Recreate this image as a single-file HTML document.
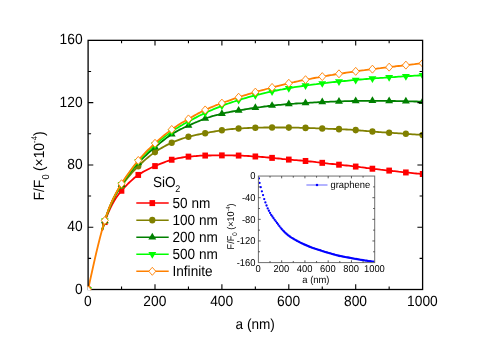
<!DOCTYPE html>
<html><head><meta charset="utf-8"><title>plot</title>
<style>html,body{margin:0;padding:0;background:#fff;overflow:hidden}svg{display:block;will-change:transform}text{font-family:"Liberation Sans",sans-serif;fill:#000;text-rendering:geometricPrecision}</style></head><body>
<svg width="491" height="347" viewBox="0 0 491 347">
<rect width="491" height="347" fill="#fff"/>
<defs><clipPath id="cp"><rect x="88.1" y="40.35" width="334.5" height="249.15"/></clipPath></defs>
<g clip-path="url(#cp)">
<polyline points="102.1,230.8 104.1,224.2 106.1,218.3 108.1,213.1 110.1,208.6 112.1,204.5 114.1,201.0 116.1,197.8 118.1,195.0 120.1,192.4 122.2,190.0 124.2,187.7 126.2,185.6 128.2,183.5 130.2,181.6 132.2,179.8 134.2,178.0 136.2,176.5 138.2,175.0 140.2,173.7 142.2,172.4 144.2,171.3 146.2,170.2 148.2,169.2 150.2,168.2 152.2,167.3 154.2,166.4 156.2,165.6 158.2,164.7 160.2,163.9 162.2,163.1 164.2,162.3 166.2,161.5 168.2,160.8 170.2,160.2 172.2,159.6 174.2,159.1 176.2,158.6 178.2,158.2 180.2,157.8 182.2,157.5 184.2,157.2 186.2,156.9 188.2,156.7 190.3,156.5 192.3,156.3 194.3,156.1 196.3,156.0 198.3,155.8 200.3,155.7 202.3,155.7 204.3,155.6 206.3,155.5 208.3,155.5 210.3,155.5 212.3,155.4 214.3,155.4 216.3,155.4 218.3,155.4 220.3,155.4 222.3,155.4 224.3,155.4 226.3,155.4 228.3,155.4 230.3,155.4 232.3,155.4 234.3,155.5 236.3,155.5 238.3,155.5 240.3,155.6 242.3,155.7 244.3,155.8 246.3,155.9 248.3,156.0 250.3,156.1 252.3,156.3 254.3,156.4 256.4,156.6 258.4,156.7 260.4,156.9 262.4,157.0 264.4,157.2 266.4,157.4 268.4,157.5 270.4,157.7 272.4,157.9 274.4,158.1 276.4,158.3 278.4,158.5 280.4,158.7 282.4,159.0 284.4,159.2 286.4,159.4 288.4,159.5 290.4,159.7 292.4,159.9 294.4,160.1 296.4,160.2 298.4,160.4 300.4,160.5 302.4,160.7 304.4,160.9 306.4,161.1 308.4,161.3 310.4,161.5 312.4,161.7 314.4,161.9 316.4,162.2 318.4,162.4 320.4,162.6 322.5,162.9 324.5,163.1 326.5,163.3 328.5,163.6 330.5,163.8 332.5,164.0 334.5,164.2 336.5,164.4 338.5,164.6 340.5,164.9 342.5,165.1 344.5,165.3 346.5,165.5 348.5,165.7 350.5,165.9 352.5,166.2 354.5,166.4 356.5,166.7 358.5,166.9 360.5,167.2 362.5,167.4 364.5,167.7 366.5,168.0 368.5,168.2 370.5,168.5 372.5,168.7 374.5,169.0 376.5,169.2 378.5,169.4 380.5,169.7 382.5,169.9 384.5,170.1 386.5,170.3 388.5,170.5 390.6,170.7 392.6,171.0 394.6,171.2 396.6,171.4 398.6,171.7 400.6,171.9 402.6,172.1 404.6,172.3 406.6,172.5 408.6,172.7 410.6,172.9 412.6,173.1 414.6,173.3 416.6,173.5 418.6,173.6 420.6,173.8 422.6,174.0" fill="none" stroke="#ff0000" stroke-width="1.8" stroke-linejoin="round"/>
<rect x="85.30" y="286.50" width="5.6" height="6.0" fill="#ff0000"/>
<rect x="102.02" y="219.05" width="5.6" height="6.0" fill="#ff0000"/>
<rect x="118.75" y="187.74" width="5.6" height="6.0" fill="#ff0000"/>
<rect x="135.47" y="171.93" width="5.6" height="6.0" fill="#ff0000"/>
<rect x="152.20" y="163.09" width="5.6" height="6.0" fill="#ff0000"/>
<rect x="168.92" y="156.74" width="5.6" height="6.0" fill="#ff0000"/>
<rect x="185.65" y="153.64" width="5.6" height="6.0" fill="#ff0000"/>
<rect x="202.38" y="152.55" width="5.6" height="6.0" fill="#ff0000"/>
<rect x="219.10" y="152.40" width="5.6" height="6.0" fill="#ff0000"/>
<rect x="235.82" y="152.55" width="5.6" height="6.0" fill="#ff0000"/>
<rect x="252.55" y="153.48" width="5.6" height="6.0" fill="#ff0000"/>
<rect x="269.27" y="154.88" width="5.6" height="6.0" fill="#ff0000"/>
<rect x="286.00" y="156.58" width="5.6" height="6.0" fill="#ff0000"/>
<rect x="302.72" y="157.98" width="5.6" height="6.0" fill="#ff0000"/>
<rect x="319.45" y="159.84" width="5.6" height="6.0" fill="#ff0000"/>
<rect x="336.18" y="161.70" width="5.6" height="6.0" fill="#ff0000"/>
<rect x="352.90" y="163.56" width="5.6" height="6.0" fill="#ff0000"/>
<rect x="369.62" y="165.73" width="5.6" height="6.0" fill="#ff0000"/>
<rect x="386.35" y="167.59" width="5.6" height="6.0" fill="#ff0000"/>
<rect x="403.07" y="169.45" width="5.6" height="6.0" fill="#ff0000"/>
<rect x="419.80" y="171.00" width="5.6" height="6.0" fill="#ff0000"/>
<polyline points="102.1,230.0 104.1,223.2 106.1,216.9 108.1,211.4 110.1,206.4 112.1,201.9 114.1,197.8 116.1,194.2 118.1,190.8 120.1,187.8 122.2,184.9 124.2,182.2 126.2,179.6 128.2,177.1 130.2,174.8 132.2,172.5 134.2,170.4 136.2,168.3 138.2,166.3 140.2,164.4 142.2,162.5 144.2,160.7 146.2,158.9 148.2,157.2 150.2,155.6 152.2,154.1 154.2,152.7 156.2,151.3 158.2,150.0 160.2,148.7 162.2,147.6 164.2,146.5 166.2,145.4 168.2,144.4 170.2,143.5 172.2,142.6 174.2,141.7 176.2,140.9 178.2,140.1 180.2,139.3 182.2,138.6 184.2,138.0 186.2,137.4 188.2,136.8 190.3,136.3 192.3,135.8 194.3,135.3 196.3,134.9 198.3,134.5 200.3,134.1 202.3,133.7 204.3,133.3 206.3,133.0 208.3,132.6 210.3,132.2 212.3,131.8 214.3,131.5 216.3,131.1 218.3,130.8 220.3,130.5 222.3,130.2 224.3,129.9 226.3,129.7 228.3,129.4 230.3,129.2 232.3,129.0 234.3,128.9 236.3,128.7 238.3,128.6 240.3,128.4 242.3,128.3 244.3,128.2 246.3,128.1 248.3,128.0 250.3,127.9 252.3,127.9 254.3,127.8 256.4,127.7 258.4,127.7 260.4,127.6 262.4,127.6 264.4,127.5 266.4,127.5 268.4,127.5 270.4,127.5 272.4,127.4 274.4,127.4 276.4,127.5 278.4,127.5 280.4,127.5 282.4,127.5 284.4,127.5 286.4,127.6 288.4,127.6 290.4,127.6 292.4,127.7 294.4,127.7 296.4,127.7 298.4,127.7 300.4,127.8 302.4,127.8 304.4,127.9 306.4,127.9 308.4,128.0 310.4,128.1 312.4,128.1 314.4,128.2 316.4,128.3 318.4,128.4 320.4,128.5 322.5,128.5 324.5,128.6 326.5,128.7 328.5,128.8 330.5,128.8 332.5,128.9 334.5,129.0 336.5,129.0 338.5,129.1 340.5,129.2 342.5,129.3 344.5,129.4 346.5,129.5 348.5,129.6 350.5,129.7 352.5,129.9 354.5,130.0 356.5,130.1 358.5,130.3 360.5,130.5 362.5,130.6 364.5,130.8 366.5,131.0 368.5,131.1 370.5,131.3 372.5,131.5 374.5,131.6 376.5,131.8 378.5,132.0 380.5,132.1 382.5,132.3 384.5,132.4 386.5,132.5 388.5,132.7 390.6,132.8 392.6,132.9 394.6,133.1 396.6,133.2 398.6,133.3 400.6,133.4 402.6,133.6 404.6,133.7 406.6,133.8 408.6,134.0 410.6,134.1 412.6,134.3 414.6,134.4 416.6,134.6 418.6,134.7 420.6,134.9 422.6,135.0" fill="none" stroke="#808000" stroke-width="1.8" stroke-linejoin="round"/>
<ellipse cx="88.10" cy="289.50" rx="3.1" ry="3.3" fill="#808000"/>
<ellipse cx="104.82" cy="220.91" rx="3.1" ry="3.3" fill="#808000"/>
<ellipse cx="121.55" cy="185.73" rx="3.1" ry="3.3" fill="#808000"/>
<ellipse cx="138.27" cy="166.20" rx="3.1" ry="3.3" fill="#808000"/>
<ellipse cx="155.00" cy="152.09" rx="3.1" ry="3.3" fill="#808000"/>
<ellipse cx="171.72" cy="142.79" rx="3.1" ry="3.3" fill="#808000"/>
<ellipse cx="188.45" cy="136.75" rx="3.1" ry="3.3" fill="#808000"/>
<ellipse cx="205.18" cy="133.18" rx="3.1" ry="3.3" fill="#808000"/>
<ellipse cx="221.90" cy="130.24" rx="3.1" ry="3.3" fill="#808000"/>
<ellipse cx="238.62" cy="128.53" rx="3.1" ry="3.3" fill="#808000"/>
<ellipse cx="255.35" cy="127.75" rx="3.1" ry="3.3" fill="#808000"/>
<ellipse cx="272.07" cy="127.45" rx="3.1" ry="3.3" fill="#808000"/>
<ellipse cx="288.80" cy="127.60" rx="3.1" ry="3.3" fill="#808000"/>
<ellipse cx="305.52" cy="127.91" rx="3.1" ry="3.3" fill="#808000"/>
<ellipse cx="322.25" cy="128.53" rx="3.1" ry="3.3" fill="#808000"/>
<ellipse cx="338.98" cy="129.15" rx="3.1" ry="3.3" fill="#808000"/>
<ellipse cx="355.70" cy="130.08" rx="3.1" ry="3.3" fill="#808000"/>
<ellipse cx="372.42" cy="131.47" rx="3.1" ry="3.3" fill="#808000"/>
<ellipse cx="389.15" cy="132.72" rx="3.1" ry="3.3" fill="#808000"/>
<ellipse cx="405.88" cy="133.80" rx="3.1" ry="3.3" fill="#808000"/>
<ellipse cx="422.60" cy="135.04" rx="3.1" ry="3.3" fill="#808000"/>
<polyline points="102.1,230.1 104.1,223.2 106.1,216.9 108.1,211.3 110.1,206.2 112.1,201.7 114.1,197.5 116.1,193.7 118.1,190.3 120.1,187.0 122.2,183.9 124.2,180.9 126.2,178.0 128.2,175.3 130.2,172.6 132.2,170.1 134.2,167.6 136.2,165.3 138.2,163.1 140.2,160.9 142.2,158.9 144.2,156.9 146.2,155.1 148.2,153.2 150.2,151.4 152.2,149.7 154.2,148.0 156.2,146.3 158.2,144.6 160.2,142.9 162.2,141.3 164.2,139.7 166.2,138.1 168.2,136.7 170.2,135.3 172.2,134.0 174.2,132.7 176.2,131.6 178.2,130.5 180.2,129.4 182.2,128.5 184.2,127.5 186.2,126.6 188.2,125.7 190.3,124.8 192.3,123.9 194.3,123.0 196.3,122.2 198.3,121.3 200.3,120.5 202.3,119.7 204.3,119.0 206.3,118.2 208.3,117.5 210.3,116.9 212.3,116.2 214.3,115.7 216.3,115.1 218.3,114.6 220.3,114.0 222.3,113.6 224.3,113.1 226.3,112.7 228.3,112.3 230.3,111.9 232.3,111.5 234.3,111.1 236.3,110.8 238.3,110.5 240.3,110.1 242.3,109.8 244.3,109.5 246.3,109.1 248.3,108.8 250.3,108.5 252.3,108.2 254.3,107.9 256.4,107.6 258.4,107.3 260.4,107.1 262.4,106.8 264.4,106.5 266.4,106.3 268.4,106.0 270.4,105.8 272.4,105.6 274.4,105.3 276.4,105.1 278.4,104.9 280.4,104.8 282.4,104.6 284.4,104.4 286.4,104.2 288.4,104.1 290.4,103.9 292.4,103.8 294.4,103.7 296.4,103.5 298.4,103.4 300.4,103.3 302.4,103.2 304.4,103.0 306.4,102.9 308.4,102.8 310.4,102.7 312.4,102.6 314.4,102.4 316.4,102.3 318.4,102.2 320.4,102.1 322.5,102.0 324.5,101.9 326.5,101.9 328.5,101.8 330.5,101.7 332.5,101.6 334.5,101.6 336.5,101.5 338.5,101.4 340.5,101.4 342.5,101.3 344.5,101.2 346.5,101.2 348.5,101.1 350.5,101.1 352.5,101.0 354.5,101.0 356.5,100.9 358.5,100.9 360.5,100.9 362.5,100.8 364.5,100.8 366.5,100.8 368.5,100.8 370.5,100.8 372.5,100.8 374.5,100.8 376.5,100.8 378.5,100.8 380.5,100.8 382.5,100.9 384.5,100.9 386.5,100.9 388.5,100.9 390.6,101.0 392.6,101.0 394.6,101.0 396.6,101.1 398.6,101.1 400.6,101.1 402.6,101.2 404.6,101.2 406.6,101.3 408.6,101.3 410.6,101.4 412.6,101.4 414.6,101.5 416.6,101.5 418.6,101.6 420.6,101.7 422.6,101.7" fill="none" stroke="#008000" stroke-width="1.8" stroke-linejoin="round"/>
<path d="M84.15 291.73L92.05 291.73L88.10 285.03Z" fill="#008000"/>
<path d="M100.87 223.15L108.77 223.15L104.82 216.45Z" fill="#008000"/>
<path d="M117.60 187.04L125.50 187.04L121.55 180.34Z" fill="#008000"/>
<path d="M134.32 165.18L142.22 165.18L138.27 158.48Z" fill="#008000"/>
<path d="M151.05 149.53L158.95 149.53L155.00 142.83Z" fill="#008000"/>
<path d="M167.78 136.51L175.67 136.51L171.72 129.81Z" fill="#008000"/>
<path d="M184.50 127.83L192.40 127.83L188.45 121.13Z" fill="#008000"/>
<path d="M201.23 120.85L209.12 120.85L205.18 114.15Z" fill="#008000"/>
<path d="M217.95 115.89L225.85 115.89L221.90 109.19Z" fill="#008000"/>
<path d="M234.68 112.64L242.57 112.64L238.62 105.94Z" fill="#008000"/>
<path d="M251.40 110.00L259.30 110.00L255.35 103.30Z" fill="#008000"/>
<path d="M268.12 107.83L276.02 107.83L272.07 101.13Z" fill="#008000"/>
<path d="M284.85 106.28L292.75 106.28L288.80 99.58Z" fill="#008000"/>
<path d="M301.57 105.20L309.47 105.20L305.52 98.50Z" fill="#008000"/>
<path d="M318.30 104.27L326.20 104.27L322.25 97.57Z" fill="#008000"/>
<path d="M335.03 103.65L342.93 103.65L338.98 96.95Z" fill="#008000"/>
<path d="M351.75 103.18L359.65 103.18L355.70 96.48Z" fill="#008000"/>
<path d="M368.47 103.03L376.37 103.03L372.42 96.33Z" fill="#008000"/>
<path d="M385.20 103.18L393.10 103.18L389.15 96.48Z" fill="#008000"/>
<path d="M401.93 103.49L409.82 103.49L405.88 96.79Z" fill="#008000"/>
<path d="M418.65 103.96L426.55 103.96L422.60 97.26Z" fill="#008000"/>
<polyline points="102.1,229.9 104.1,223.0 106.1,216.7 108.1,211.1 110.1,206.0 112.1,201.4 114.1,197.2 116.1,193.4 118.1,189.8 120.1,186.5 122.2,183.3 124.2,180.2 126.2,177.3 128.2,174.4 130.2,171.6 132.2,168.9 134.2,166.3 136.2,163.8 138.2,161.5 140.2,159.2 142.2,157.0 144.2,154.9 146.2,152.9 148.2,150.9 150.2,149.1 152.2,147.2 154.2,145.5 156.2,143.7 158.2,142.0 160.2,140.3 162.2,138.7 164.2,137.1 166.2,135.6 168.2,134.1 170.2,132.6 172.2,131.2 174.2,129.9 176.2,128.6 178.2,127.4 180.2,126.1 182.2,125.0 184.2,123.8 186.2,122.7 188.2,121.6 190.3,120.5 192.3,119.5 194.3,118.4 196.3,117.4 198.3,116.3 200.3,115.3 202.3,114.4 204.3,113.4 206.3,112.5 208.3,111.5 210.3,110.6 212.3,109.8 214.3,108.9 216.3,108.1 218.3,107.3 220.3,106.5 222.3,105.7 224.3,104.9 226.3,104.2 228.3,103.5 230.3,102.8 232.3,102.1 234.3,101.5 236.3,100.8 238.3,100.2 240.3,99.6 242.3,99.0 244.3,98.4 246.3,97.8 248.3,97.2 250.3,96.6 252.3,96.1 254.3,95.6 256.4,95.0 258.4,94.5 260.4,94.1 262.4,93.6 264.4,93.1 266.4,92.7 268.4,92.2 270.4,91.8 272.4,91.4 274.4,90.9 276.4,90.5 278.4,90.1 280.4,89.7 282.4,89.4 284.4,89.0 286.4,88.6 288.4,88.2 290.4,87.9 292.4,87.6 294.4,87.2 296.4,86.9 298.4,86.6 300.4,86.3 302.4,86.0 304.4,85.7 306.4,85.4 308.4,85.1 310.4,84.9 312.4,84.6 314.4,84.3 316.4,84.1 318.4,83.8 320.4,83.6 322.5,83.3 324.5,83.1 326.5,82.9 328.5,82.6 330.5,82.4 332.5,82.2 334.5,82.0 336.5,81.8 338.5,81.6 340.5,81.4 342.5,81.2 344.5,81.0 346.5,80.8 348.5,80.6 350.5,80.4 352.5,80.2 354.5,80.1 356.5,79.9 358.5,79.7 360.5,79.5 362.5,79.4 364.5,79.2 366.5,79.0 368.5,78.9 370.5,78.7 372.5,78.6 374.5,78.4 376.5,78.2 378.5,78.1 380.5,77.9 382.5,77.8 384.5,77.7 386.5,77.5 388.5,77.4 390.6,77.2 392.6,77.1 394.6,77.0 396.6,76.8 398.6,76.7 400.6,76.6 402.6,76.4 404.6,76.3 406.6,76.2 408.6,76.1 410.6,76.0 412.6,75.9 414.6,75.7 416.6,75.6 418.6,75.5 420.6,75.4 422.6,75.3" fill="none" stroke="#00ff00" stroke-width="1.8" stroke-linejoin="round"/>
<path d="M84.15 287.27L92.05 287.27L88.10 293.97Z" fill="#00ff00"/>
<path d="M100.87 218.47L108.77 218.47L104.82 225.17Z" fill="#00ff00"/>
<path d="M117.60 182.04L125.50 182.04L121.55 188.74Z" fill="#00ff00"/>
<path d="M134.32 159.10L142.22 159.10L138.27 165.80Z" fill="#00ff00"/>
<path d="M151.05 142.52L158.95 142.52L155.00 149.22Z" fill="#00ff00"/>
<path d="M167.78 129.34L175.67 129.34L171.72 136.04Z" fill="#00ff00"/>
<path d="M184.50 119.27L192.40 119.27L188.45 125.97Z" fill="#00ff00"/>
<path d="M201.23 110.74L209.12 110.74L205.18 117.44Z" fill="#00ff00"/>
<path d="M217.95 103.61L225.85 103.61L221.90 110.31Z" fill="#00ff00"/>
<path d="M234.68 97.88L242.57 97.88L238.62 104.58Z" fill="#00ff00"/>
<path d="M251.40 93.07L259.30 93.07L255.35 99.77Z" fill="#00ff00"/>
<path d="M268.12 89.20L276.02 89.20L272.07 95.90Z" fill="#00ff00"/>
<path d="M284.85 85.94L292.75 85.94L288.80 92.64Z" fill="#00ff00"/>
<path d="M301.57 83.31L309.47 83.31L305.52 90.01Z" fill="#00ff00"/>
<path d="M318.30 81.14L326.20 81.14L322.25 87.84Z" fill="#00ff00"/>
<path d="M335.03 79.28L342.93 79.28L338.98 85.98Z" fill="#00ff00"/>
<path d="M351.75 77.73L359.65 77.73L355.70 84.43Z" fill="#00ff00"/>
<path d="M368.47 76.33L376.37 76.33L372.42 83.03Z" fill="#00ff00"/>
<path d="M385.20 75.09L393.10 75.09L389.15 81.79Z" fill="#00ff00"/>
<path d="M401.93 74.01L409.82 74.01L405.88 80.71Z" fill="#00ff00"/>
<path d="M418.65 73.08L426.55 73.08L422.60 79.78Z" fill="#00ff00"/>
<polyline points="88.1,289.5 90.1,280.3 92.1,271.2 94.1,262.3 96.1,253.5 98.1,245.2 100.1,237.2 102.1,229.7 104.1,222.7 106.1,216.4 108.1,210.7 110.1,205.6 112.1,201.0 114.1,196.8 116.1,192.9 118.1,189.3 120.1,186.0 122.2,182.8 124.2,179.6 126.2,176.6 128.2,173.7 130.2,170.9 132.2,168.2 134.2,165.5 136.2,163.0 138.2,160.6 140.2,158.2 142.2,156.0 144.2,153.8 146.2,151.7 148.2,149.7 150.2,147.8 152.2,145.9 154.2,144.0 156.2,142.2 158.2,140.4 160.2,138.6 162.2,136.9 164.2,135.2 166.2,133.6 168.2,132.1 170.2,130.6 172.2,129.1 174.2,127.7 176.2,126.4 178.2,125.1 180.2,123.8 182.2,122.6 184.2,121.4 186.2,120.2 188.2,119.0 190.3,117.9 192.3,116.7 194.3,115.6 196.3,114.5 198.3,113.4 200.3,112.4 202.3,111.3 204.3,110.4 206.3,109.4 208.3,108.5 210.3,107.6 212.3,106.8 214.3,106.0 216.3,105.2 218.3,104.5 220.3,103.7 222.3,103.0 224.3,102.2 226.3,101.5 228.3,100.8 230.3,100.1 232.3,99.4 234.3,98.7 236.3,98.0 238.3,97.3 240.3,96.7 242.3,96.0 244.3,95.4 246.3,94.8 248.3,94.2 250.3,93.6 252.3,93.0 254.3,92.4 256.4,91.8 258.4,91.2 260.4,90.7 262.4,90.1 264.4,89.6 266.4,89.0 268.4,88.5 270.4,87.9 272.4,87.4 274.4,86.8 276.4,86.3 278.4,85.8 280.4,85.3 282.4,84.8 284.4,84.3 286.4,83.8 288.4,83.4 290.4,82.9 292.4,82.5 294.4,82.0 296.4,81.6 298.4,81.2 300.4,80.7 302.4,80.3 304.4,79.9 306.4,79.5 308.4,79.1 310.4,78.8 312.4,78.4 314.4,78.0 316.4,77.6 318.4,77.3 320.4,76.9 322.5,76.6 324.5,76.2 326.5,75.9 328.5,75.5 330.5,75.2 332.5,74.9 334.5,74.5 336.5,74.2 338.5,73.9 340.5,73.6 342.5,73.3 344.5,73.0 346.5,72.7 348.5,72.4 350.5,72.1 352.5,71.8 354.5,71.5 356.5,71.2 358.5,71.0 360.5,70.7 362.5,70.4 364.5,70.2 366.5,69.9 368.5,69.6 370.5,69.4 372.5,69.2 374.5,68.9 376.5,68.7 378.5,68.4 380.5,68.2 382.5,67.9 384.5,67.7 386.5,67.5 388.5,67.2 390.6,67.0 392.6,66.7 394.6,66.5 396.6,66.2 398.6,66.0 400.6,65.8 402.6,65.5 404.6,65.3 406.6,65.1 408.6,64.8 410.6,64.6 412.6,64.4 414.6,64.2 416.6,63.9 418.6,63.7 420.6,63.5 422.6,63.3" fill="none" stroke="#ff8000" stroke-width="1.8" stroke-linejoin="round"/>
<path d="M84.60 289.50L88.10 285.50L91.60 289.50L88.10 293.50Z" fill="#fff" stroke="#ff8000" stroke-width="0.9"/>
<path d="M101.32 220.44L104.82 216.44L108.32 220.44L104.82 224.44Z" fill="#fff" stroke="#ff8000" stroke-width="0.9"/>
<path d="M118.05 183.71L121.55 179.71L125.05 183.71L121.55 187.71Z" fill="#fff" stroke="#ff8000" stroke-width="0.9"/>
<path d="M134.77 160.46L138.27 156.46L141.77 160.46L138.27 164.46Z" fill="#fff" stroke="#ff8000" stroke-width="0.9"/>
<path d="M151.50 143.25L155.00 139.25L158.50 143.25L155.00 147.25Z" fill="#fff" stroke="#ff8000" stroke-width="0.9"/>
<path d="M168.22 129.46L171.72 125.46L175.22 129.46L171.72 133.46Z" fill="#fff" stroke="#ff8000" stroke-width="0.9"/>
<path d="M184.95 118.92L188.45 114.92L191.95 118.92L188.45 122.92Z" fill="#fff" stroke="#ff8000" stroke-width="0.9"/>
<path d="M201.68 109.93L205.18 105.93L208.68 109.93L205.18 113.93Z" fill="#fff" stroke="#ff8000" stroke-width="0.9"/>
<path d="M218.40 103.11L221.90 99.11L225.40 103.11L221.90 107.11Z" fill="#fff" stroke="#ff8000" stroke-width="0.9"/>
<path d="M235.12 97.22L238.62 93.22L242.12 97.22L238.62 101.22Z" fill="#fff" stroke="#ff8000" stroke-width="0.9"/>
<path d="M251.85 92.10L255.35 88.10L258.85 92.10L255.35 96.10Z" fill="#fff" stroke="#ff8000" stroke-width="0.9"/>
<path d="M268.57 87.45L272.07 83.45L275.57 87.45L272.07 91.45Z" fill="#fff" stroke="#ff8000" stroke-width="0.9"/>
<path d="M285.30 83.27L288.80 79.27L292.30 83.27L288.80 87.27Z" fill="#fff" stroke="#ff8000" stroke-width="0.9"/>
<path d="M302.02 79.70L305.52 75.70L309.02 79.70L305.52 83.70Z" fill="#fff" stroke="#ff8000" stroke-width="0.9"/>
<path d="M318.75 76.60L322.25 72.60L325.75 76.60L322.25 80.60Z" fill="#fff" stroke="#ff8000" stroke-width="0.9"/>
<path d="M335.48 73.82L338.98 69.82L342.48 73.82L338.98 77.82Z" fill="#fff" stroke="#ff8000" stroke-width="0.9"/>
<path d="M352.20 71.33L355.70 67.33L359.20 71.33L355.70 75.33Z" fill="#fff" stroke="#ff8000" stroke-width="0.9"/>
<path d="M368.92 69.17L372.42 65.17L375.92 69.17L372.42 73.17Z" fill="#fff" stroke="#ff8000" stroke-width="0.9"/>
<path d="M385.65 67.15L389.15 63.15L392.65 67.15L389.15 71.15Z" fill="#fff" stroke="#ff8000" stroke-width="0.9"/>
<path d="M402.38 65.13L405.88 61.13L409.38 65.13L405.88 69.13Z" fill="#fff" stroke="#ff8000" stroke-width="0.9"/>
<path d="M419.10 63.27L422.60 59.27L426.10 63.27L422.60 67.27Z" fill="#fff" stroke="#ff8000" stroke-width="0.9"/>
</g>
<g stroke="#000" stroke-width="1.3" fill="none" stroke-linecap="butt">
<rect x="88.1" y="40.35" width="334.50" height="249.15"/>
</g>
<g stroke="#000" stroke-width="1.1" fill="none" stroke-linecap="butt">
<path d="M121.55 289.5v-3.0M121.55 40.35v3.0"/>
<path d="M155.00 289.5v-5.2M155.00 40.35v5.2"/>
<path d="M188.45 289.5v-3.0M188.45 40.35v3.0"/>
<path d="M221.90 289.5v-5.2M221.90 40.35v5.2"/>
<path d="M255.35 289.5v-3.0M255.35 40.35v3.0"/>
<path d="M288.80 289.5v-5.2M288.80 40.35v5.2"/>
<path d="M322.25 289.5v-3.0M322.25 40.35v3.0"/>
<path d="M355.70 289.5v-5.2M355.70 40.35v5.2"/>
<path d="M389.15 289.5v-3.0M389.15 40.35v3.0"/>
<path d="M88.1 258.36h3.0M422.6 258.36h-3.0"/>
<path d="M88.1 227.21h5.2M422.6 227.21h-5.2"/>
<path d="M88.1 196.07h3.0M422.6 196.07h-3.0"/>
<path d="M88.1 164.93h5.2M422.6 164.93h-5.2"/>
<path d="M88.1 133.78h3.0M422.6 133.78h-3.0"/>
<path d="M88.1 102.64h5.2M422.6 102.64h-5.2"/>
<path d="M88.1 71.49h3.0M422.6 71.49h-3.0"/>
</g>
<defs><clipPath id="cp0"><rect x="87.44999999999999" y="281.5" width="8" height="8.65"/></clipPath></defs>
<g clip-path="url(#cp0)"><path d="M84.30 289.80L87.80 285.80L91.30 289.80L87.80 293.80Z" fill="#fff" stroke="#ff8000" stroke-width="0.9"/></g>
<text transform="translate(87.90 306.00) scale(1 1.07)" font-size="13.8" text-anchor="middle">0</text>
<text transform="translate(154.80 306.00) scale(1 1.07)" font-size="13.8" text-anchor="middle">200</text>
<text transform="translate(221.70 306.00) scale(1 1.07)" font-size="13.8" text-anchor="middle">400</text>
<text transform="translate(288.60 306.00) scale(1 1.07)" font-size="13.8" text-anchor="middle">600</text>
<text transform="translate(355.50 306.00) scale(1 1.07)" font-size="13.8" text-anchor="middle">800</text>
<text transform="translate(422.40 306.00) scale(1 1.07)" font-size="13.8" text-anchor="middle">1000</text>
<text transform="translate(82.60 293.50) scale(1 1.07)" font-size="13.8" text-anchor="end">0</text>
<text transform="translate(82.60 231.21) scale(1 1.07)" font-size="13.8" text-anchor="end">40</text>
<text transform="translate(82.60 168.93) scale(1 1.07)" font-size="13.8" text-anchor="end">80</text>
<text transform="translate(82.60 106.64) scale(1 1.07)" font-size="13.8" text-anchor="end">120</text>
<text transform="translate(82.60 44.35) scale(1 1.07)" font-size="13.8" text-anchor="end">160</text>
<text transform="translate(255.20 328.50) scale(1 1.075)" font-size="13.6" text-anchor="middle">a (nm)</text>
<text transform="translate(43.90 200.50) rotate(-90) scale(1 1.07)" font-size="13.85" text-anchor="start">F/F<tspan dx="0.3" dy="4.8" font-size="9.3">0</tspan><tspan dx="-0.6" dy="-4.8"> (×10</tspan><tspan dy="-6.4" font-size="7.8">-4</tspan><tspan dy="6.4">)</tspan></text>
<text transform="translate(153.00 186.60) scale(1 1.075)" font-size="13.6" text-anchor="start">SiO<tspan dx="-0.3" dy="5.2" font-size="9">2</tspan></text>
<path d="M136.3 203.10H168.7" stroke="#ff0000" stroke-width="1.5"/>
<rect x="149.50" y="200.10" width="5.6" height="6.0" fill="#ff0000"/>
<text transform="translate(172.50 207.80) scale(1 1.075)" font-size="13.6" text-anchor="start">50 nm</text>
<path d="M136.3 220.15H168.7" stroke="#808000" stroke-width="1.5"/>
<ellipse cx="152.30" cy="220.15" rx="3.1" ry="3.3" fill="#808000"/>
<text transform="translate(172.50 224.85) scale(1 1.075)" font-size="13.6" text-anchor="start">100 nm</text>
<path d="M136.3 237.20H168.7" stroke="#008000" stroke-width="1.5"/>
<path d="M148.35 239.43L156.25 239.43L152.30 232.73Z" fill="#008000"/>
<text transform="translate(172.50 241.90) scale(1 1.075)" font-size="13.6" text-anchor="start">200 nm</text>
<path d="M136.3 254.25H168.7" stroke="#00ff00" stroke-width="1.5"/>
<path d="M148.35 252.02L156.25 252.02L152.30 258.72Z" fill="#00ff00"/>
<text transform="translate(172.50 258.95) scale(1 1.075)" font-size="13.6" text-anchor="start">500 nm</text>
<path d="M136.3 271.30H168.7" stroke="#ff8000" stroke-width="1.5"/>
<path d="M148.80 271.30L152.30 267.30L155.80 271.30L152.30 275.30Z" fill="#fff" stroke="#ff8000" stroke-width="0.9"/>
<text transform="translate(172.50 276.00) scale(1 1.075)" font-size="13.6" text-anchor="start">Infinite</text>
<rect x="258.4" y="176.05" width="116.30" height="86.55" fill="#fff"/>
<defs><clipPath id="icp"><rect x="258.00" y="176.05" width="116.70" height="86.55"/></clipPath></defs>
<g fill="#0000ff" clip-path="url(#icp)">
<circle cx="259.0" cy="178.4" r="1.1"/>
<circle cx="259.56" cy="182.94" r="1.15"/>
<circle cx="260.73" cy="187.17" r="1.15"/>
<circle cx="261.89" cy="191.30" r="1.15"/>
<circle cx="263.05" cy="195.08" r="1.15"/>
<circle cx="264.21" cy="199.07" r="1.15"/>
<circle cx="265.38" cy="202.39" r="1.15"/>
<circle cx="266.54" cy="205.48" r="1.15"/>
<circle cx="267.70" cy="208.46" r="1.15"/>
<circle cx="268.87" cy="210.77" r="1.15"/>
<circle cx="270.03" cy="212.88" r="1.15"/>
<circle cx="271.19" cy="214.92" r="1.15"/>
<circle cx="272.36" cy="216.51" r="1.15"/>
<circle cx="273.52" cy="218.18" r="1.15"/>
<circle cx="274.68" cy="219.81" r="1.15"/>
<circle cx="275.84" cy="221.36" r="1.15"/>
<circle cx="277.01" cy="222.91" r="1.15"/>
<circle cx="278.17" cy="224.49" r="1.15"/>
<circle cx="279.33" cy="226.06" r="1.15"/>
<circle cx="280.50" cy="227.58" r="1.15"/>
<circle cx="281.66" cy="228.99" r="1.15"/>
<circle cx="282.82" cy="230.28" r="1.15"/>
<circle cx="283.99" cy="231.49" r="1.15"/>
<circle cx="285.15" cy="232.65" r="1.15"/>
<circle cx="286.31" cy="233.73" r="1.15"/>
<circle cx="287.47" cy="234.74" r="1.15"/>
<circle cx="288.64" cy="235.66" r="1.15"/>
<circle cx="289.80" cy="236.51" r="1.15"/>
<circle cx="290.96" cy="237.29" r="1.15"/>
<circle cx="292.13" cy="238.03" r="1.15"/>
<circle cx="293.29" cy="238.74" r="1.15"/>
<circle cx="294.45" cy="239.43" r="1.15"/>
<circle cx="295.62" cy="240.10" r="1.15"/>
<circle cx="296.78" cy="240.75" r="1.15"/>
<circle cx="297.94" cy="241.37" r="1.15"/>
<circle cx="299.10" cy="241.98" r="1.15"/>
<circle cx="300.27" cy="242.56" r="1.15"/>
<circle cx="301.43" cy="243.14" r="1.15"/>
<circle cx="302.59" cy="243.69" r="1.15"/>
<circle cx="303.76" cy="244.24" r="1.15"/>
<circle cx="304.92" cy="244.76" r="1.15"/>
<circle cx="306.08" cy="245.27" r="1.15"/>
<circle cx="307.25" cy="245.77" r="1.15"/>
<circle cx="308.41" cy="246.27" r="1.15"/>
<circle cx="309.57" cy="246.75" r="1.15"/>
<circle cx="310.74" cy="247.22" r="1.15"/>
<circle cx="311.90" cy="247.66" r="1.15"/>
<circle cx="313.06" cy="248.08" r="1.15"/>
<circle cx="314.22" cy="248.47" r="1.15"/>
<circle cx="315.39" cy="248.83" r="1.15"/>
<circle cx="316.55" cy="249.18" r="1.15"/>
<circle cx="317.71" cy="249.53" r="1.15"/>
<circle cx="318.88" cy="249.89" r="1.15"/>
<circle cx="320.04" cy="250.27" r="1.15"/>
<circle cx="321.20" cy="250.66" r="1.15"/>
<circle cx="322.37" cy="251.05" r="1.15"/>
<circle cx="323.53" cy="251.44" r="1.15"/>
<circle cx="324.69" cy="251.81" r="1.15"/>
<circle cx="325.85" cy="252.15" r="1.15"/>
<circle cx="327.02" cy="252.48" r="1.15"/>
<circle cx="328.18" cy="252.81" r="1.15"/>
<circle cx="329.34" cy="253.13" r="1.15"/>
<circle cx="330.51" cy="253.47" r="1.15"/>
<circle cx="331.67" cy="253.82" r="1.15"/>
<circle cx="332.83" cy="254.17" r="1.15"/>
<circle cx="334.00" cy="254.52" r="1.15"/>
<circle cx="335.16" cy="254.86" r="1.15"/>
<circle cx="336.32" cy="255.18" r="1.15"/>
<circle cx="337.48" cy="255.47" r="1.15"/>
<circle cx="338.65" cy="255.73" r="1.15"/>
<circle cx="339.81" cy="255.98" r="1.15"/>
<circle cx="340.97" cy="256.22" r="1.15"/>
<circle cx="342.14" cy="256.44" r="1.15"/>
<circle cx="343.30" cy="256.66" r="1.15"/>
<circle cx="344.46" cy="256.88" r="1.15"/>
<circle cx="345.62" cy="257.09" r="1.15"/>
<circle cx="346.79" cy="257.30" r="1.15"/>
<circle cx="347.95" cy="257.52" r="1.15"/>
<circle cx="349.11" cy="257.73" r="1.15"/>
<circle cx="350.28" cy="257.95" r="1.15"/>
<circle cx="351.44" cy="258.16" r="1.15"/>
<circle cx="352.60" cy="258.38" r="1.15"/>
<circle cx="353.77" cy="258.59" r="1.15"/>
<circle cx="354.93" cy="258.80" r="1.15"/>
<circle cx="356.09" cy="259.00" r="1.15"/>
<circle cx="357.25" cy="259.20" r="1.15"/>
<circle cx="358.42" cy="259.40" r="1.15"/>
<circle cx="359.58" cy="259.60" r="1.15"/>
<circle cx="360.74" cy="259.79" r="1.15"/>
<circle cx="361.91" cy="259.98" r="1.15"/>
<circle cx="363.07" cy="260.16" r="1.15"/>
<circle cx="364.23" cy="260.35" r="1.15"/>
<circle cx="365.40" cy="260.53" r="1.15"/>
<circle cx="366.56" cy="260.71" r="1.15"/>
<circle cx="367.72" cy="260.89" r="1.15"/>
<circle cx="368.88" cy="261.06" r="1.15"/>
<circle cx="370.05" cy="261.24" r="1.15"/>
<circle cx="371.21" cy="261.41" r="1.15"/>
<circle cx="372.37" cy="261.57" r="1.15"/>
<circle cx="373.54" cy="261.74" r="1.15"/>
<circle cx="374.70" cy="261.90" r="1.15"/>
</g>
<g stroke="#6e6e6e" stroke-width="1.0" fill="none">
<rect x="258.4" y="176.05" width="116.30" height="86.55"/>
</g>
<g stroke="#333" stroke-width="0.8" fill="none">
<path d="M270.03 262.6v-1.6M270.03 176.05v1.6"/>
<path d="M281.66 262.6v-2.3M281.66 176.05v2.3"/>
<path d="M293.29 262.6v-1.6M293.29 176.05v1.6"/>
<path d="M304.92 262.6v-2.3M304.92 176.05v2.3"/>
<path d="M316.55 262.6v-1.6M316.55 176.05v1.6"/>
<path d="M328.18 262.6v-2.3M328.18 176.05v2.3"/>
<path d="M339.81 262.6v-1.6M339.81 176.05v1.6"/>
<path d="M351.44 262.6v-2.3M351.44 176.05v2.3"/>
<path d="M363.07 262.6v-1.6M363.07 176.05v1.6"/>
<path d="M258.4 251.78h1.6M374.7 251.78h-1.6"/>
<path d="M258.4 240.96h2.3M374.7 240.96h-2.3"/>
<path d="M258.4 230.14h1.6M374.7 230.14h-1.6"/>
<path d="M258.4 219.33h2.3M374.7 219.33h-2.3"/>
<path d="M258.4 208.51h1.6M374.7 208.51h-1.6"/>
<path d="M258.4 197.69h2.3M374.7 197.69h-2.3"/>
<path d="M258.4 186.87h1.6M374.7 186.87h-1.6"/>
</g>
<text transform="translate(258.10 272.20) scale(1 1.06)" font-size="9.4" text-anchor="middle">0</text>
<text transform="translate(281.36 272.20) scale(1 1.06)" font-size="9.4" text-anchor="middle">200</text>
<text transform="translate(304.62 272.20) scale(1 1.06)" font-size="9.4" text-anchor="middle">400</text>
<text transform="translate(327.88 272.20) scale(1 1.06)" font-size="9.4" text-anchor="middle">600</text>
<text transform="translate(351.14 272.20) scale(1 1.06)" font-size="9.4" text-anchor="middle">800</text>
<text transform="translate(374.40 272.20) scale(1 1.06)" font-size="9.4" text-anchor="middle">1000</text>
<text transform="translate(255.50 179.35) scale(1 1.06)" font-size="9.4" text-anchor="end">0</text>
<text transform="translate(255.50 200.99) scale(1 1.06)" font-size="9.4" text-anchor="end">-40</text>
<text transform="translate(255.50 222.63) scale(1 1.06)" font-size="9.4" text-anchor="end">-80</text>
<text transform="translate(255.50 244.26) scale(1 1.06)" font-size="9.4" text-anchor="end">-120</text>
<text transform="translate(255.50 265.90) scale(1 1.06)" font-size="9.4" text-anchor="end">-160</text>
<text transform="translate(315.90 282.70) scale(1 1.06)" font-size="9.4" text-anchor="middle">a (nm)</text>
<text transform="translate(234.30 249.40) rotate(-90) scale(1 1.08)" font-size="9.05" text-anchor="start">F/F<tspan dy="2.6" font-size="6.2">0</tspan><tspan dy="-2.6"> (×10</tspan><tspan dy="-4.0" font-size="5.6">-4</tspan><tspan dy="4.0">)</tspan></text>
<path d="M306.4 185H327.5" stroke="#0000ff" stroke-width="0.6"/>
<rect x="315.9" y="183.9" width="2.2" height="2.2" fill="#0000ff"/>
<text transform="translate(330.50 188.10) scale(1 1.06)" font-size="9.4" text-anchor="start">graphene</text>
</svg></body></html>
